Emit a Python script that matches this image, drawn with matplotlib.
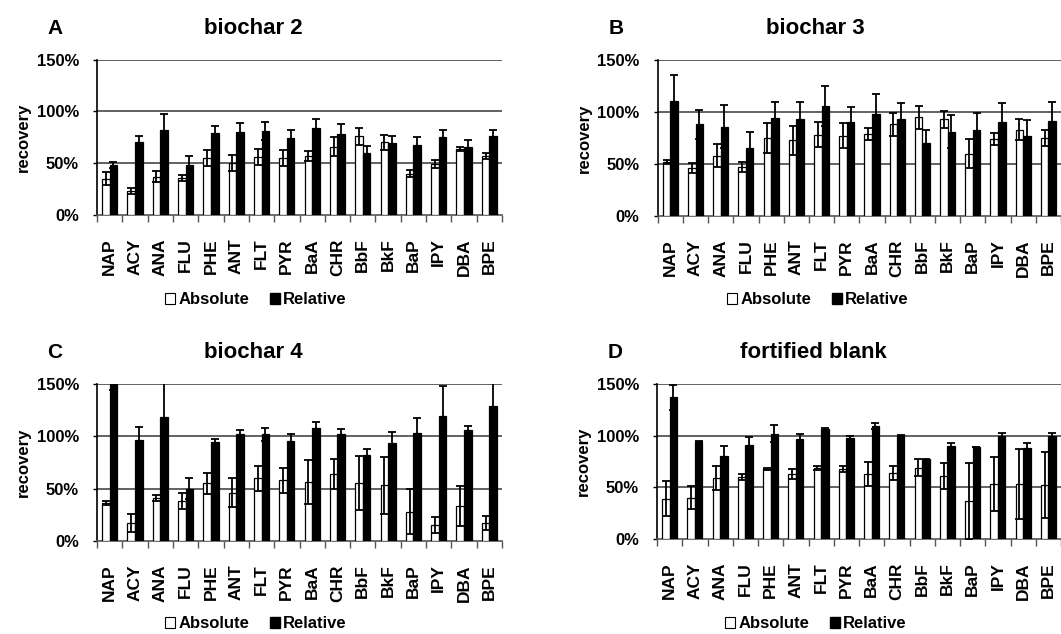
import numpy as np
import matplotlib
matplotlib.use('Agg')
import matplotlib.pyplot as plt
from matplotlib.patches import Patch
from matplotlib.ticker import FixedLocator, PercentFormatter

plt.rcParams['font.family'] = ['Liberation Sans', 'DejaVu Sans']
plt.rcParams['font.weight'] = 'bold'

# 化合物ラベル
pahs = ['NAP', 'ACY', 'ANA', 'FLU', 'PHE', 'ANT', 'FLT', 'PYR',
        'BaA', 'CHR', 'BbF', 'BkF', 'BaP', 'IPY', 'DBA', 'BPE']

# biochar 2
b2_abs = [35, 23, 37, 36, 55, 50, 56, 55, 57, 66, 76, 70, 40, 49, 64, 57]
b2_abs_err = [6, 3, 5, 3, 8, 8, 8, 8, 5, 9, 8, 7, 3, 4, 2, 3]
b2_rel = [48, 70, 82, 48, 79, 80, 81, 74, 84, 78, 60, 69, 68, 75, 66, 76]
b2_rel_err = [3, 6, 15, 9, 7, 9, 9, 8, 9, 10, 7, 7, 7, 7, 6, 6]

# biochar 3
b3_abs = [52, 46, 58, 47, 75, 73, 78, 77, 79, 88, 95, 93, 60, 74, 83, 75]
b3_abs_err = [2, 5, 11, 5, 14, 14, 12, 12, 6, 11, 11, 8, 14, 6, 10, 8]
b3_rel = [111, 88, 86, 65, 94, 93, 106, 90, 98, 93, 70, 81, 83, 90, 77, 91]
b3_rel_err = [25, 14, 21, 16, 16, 17, 19, 15, 19, 16, 13, 16, 16, 19, 15, 19]

# biochar 4
b4_abs = [36, 17, 41, 38, 55, 46, 60, 58, 56, 64, 55, 53, 28, 15, 33, 17]
b4_abs_err = [2, 9, 3, 8, 10, 14, 12, 12, 21, 14, 26, 27, 22, 8, 19, 7]
b4_rel = [165, 97, 119, 50, 95, 102, 102, 96, 108, 102, 82, 94, 103, 120, 106, 129]
b4_rel_err = [20, 12, 35, 10, 3, 4, 6, 6, 6, 5, 6, 10, 15, 28, 4, 23]

# fortified blank
fb_abs = [39, 40, 59, 60, 68, 63, 69, 68, 63, 64, 69, 61, 37, 53, 53, 52]
fb_abs_err = [17, 11, 12, 3, 1, 5, 2, 3, 12, 7, 8, 13, 37, 26, 34, 32]
fb_rel = [137, 94, 80, 91, 102, 97, 106, 98, 109, 100, 77, 90, 89, 100, 88, 100]
fb_rel_err = [12, 0.5, 10, 8, 8, 5, 1.5, 1.5, 3, 0.5, 0.5, 3, 0.3, 3, 5, 3]

W, H = 1061, 634
fig = plt.figure(figsize=(W / 100, H / 100), dpi=100)


def px_rect(left, top, right, bottom):
    return [left / W, 1 - bottom / H, (right - left) / W, (bottom - top) / H]


panels = [
    ('A', 'biochar 2', b2_abs, b2_abs_err, b2_rel, b2_rel_err,
     (97, 59.5, 502, 215), 253, 0),
    ('B', 'biochar 3', b3_abs, b3_abs_err, b3_rel, b3_rel_err,
     (657.7, 60, 1061, 216), 815, 0),
    ('C', 'biochar 4', b4_abs, b4_abs_err, b4_rel, b4_rel_err,
     (97, 384.3, 502, 540.7), 253, 324),
    ('D', 'fortified blank', fb_abs, fb_abs_err, fb_rel, fb_rel_err,
     (657, 384, 1061, 539), 813, 324),
]

x = np.arange(len(pahs))
bw = 0.3
err_kw = dict(ecolor='black', elinewidth=1.3, capsize=3.2, capthick=1.3)

for letter, title, ab, ab_e, rel, rel_e, rect, cx, dy in panels:
    ax = fig.add_axes(px_rect(*rect))
    ax.bar(x - bw / 2, ab, bw, yerr=ab_e, color='white', edgecolor='black',
           linewidth=0.9, error_kw=err_kw, zorder=3)
    ax.bar(x + bw / 2, rel, bw, yerr=rel_e, color='black', edgecolor='black',
           linewidth=0.9, error_kw=err_kw, zorder=3)
    ax.set_ylim(0, 150)
    ax.set_xlim(-0.5, len(pahs) - 0.5)
    ax.set_yticks([0, 50, 100, 150])
    ax.yaxis.set_major_formatter(PercentFormatter(decimals=0))
    for v in (50, 100, 150):
        ax.axhline(v, color='#555555', lw=1.3, zorder=1)
    for s in ('top', 'right'):
        ax.spines[s].set_visible(False)
    ax.spines['left'].set_linewidth(1.2)
    ax.spines['bottom'].set_linewidth(1.2)
    ax.spines['bottom'].set_color('#555555')
    ax.set_xticks(x)
    ax.set_xticklabels(pahs, rotation=90, fontsize=12.5, fontweight='bold')
    ax.xaxis.set_minor_locator(FixedLocator(np.arange(-0.5, len(pahs), 1)))
    ax.tick_params(axis='x', which='major', length=0, pad=17)
    ax.tick_params(axis='x', which='minor', length=5, width=1, color='#555555')
    ax.tick_params(axis='y', length=3, width=1, pad=10, labelsize=12)
    for lab in ax.get_yticklabels():
        lab.set_fontweight('bold')
    ax.set_ylabel('recovery', fontsize=12, fontweight='bold', labelpad=4)
    ax.patch.set_alpha(0)

    fig.text((rect[0] - 42) / W, 1 - (29 + dy) / H, letter, fontsize=15,
             fontweight='bold', ha='center', va='center')
    fig.text(cx / W, 1 - (28 + dy) / H, title, fontsize=16,
             fontweight='bold', ha='center', va='center')
    handles = [Patch(facecolor='white', edgecolor='black', linewidth=0.8),
               Patch(facecolor='black', edgecolor='black')]
    fig.legend(handles, ['Absolute', 'Relative'], loc='center',
               bbox_to_anchor=((cx + 3) / W, 1 - (300 + dy) / H), ncol=2,
               frameon=False, fontsize=12, handlelength=0.6,
               handleheight=0.6, handletextpad=0.2, columnspacing=1.2,
               prop={'weight': 'bold', 'size': 12})

fig.savefig('out.png', dpi=100)
